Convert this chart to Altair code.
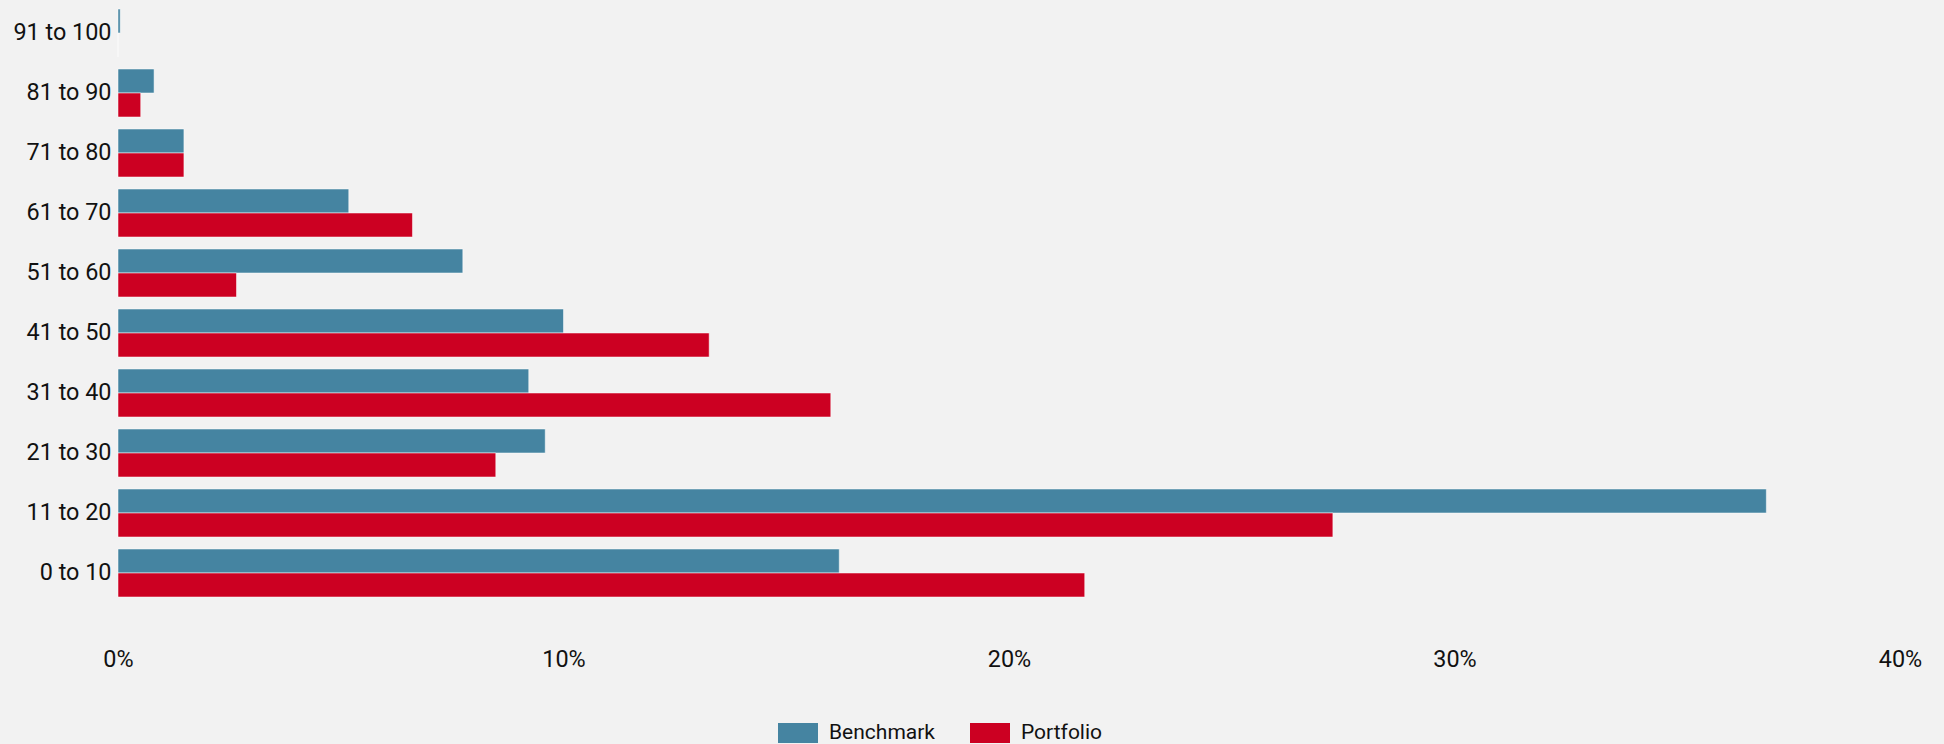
import altair as alt
import pandas as pd

ranges = ["91 to 100", "81 to 90", "71 to 80", "61 to 70", "51 to 60",
          "41 to 50", "31 to 40", "21 to 30", "11 to 20", "0 to 10"]
benchmark = [0.05, 0.81, 1.48, 5.18, 7.74, 10.0, 9.22, 9.59, 37.0, 16.19]
portfolio = [0.0, 0.51, 1.48, 6.61, 2.66, 13.27, 16.0, 8.48, 27.27, 21.70]
series = ["Benchmark", "Portfolio"]
colors = ["#4584a1", "#cc0022"]

rows = []
for r, b, p in zip(ranges, benchmark, portfolio):
    rows.append({"Range": r, "Series": "Benchmark", "Value": b / 100})
    rows.append({"Range": r, "Series": "Portfolio", "Value": p / 100})
df = pd.DataFrame(rows)

FONT = "Roboto"
AX = 23.4

chart = alt.Chart(df).mark_bar(
    stroke="white", strokeWidth=1, strokeOpacity=0.5
).encode(
    y=alt.Y("Range:N", sort=ranges, title=None,
            scale=alt.Scale(paddingInner=0.2, paddingOuter=0.1),
            axis=alt.Axis(domain=False, ticks=False, labelFontSize=AX,
                          labelFont=FONT, labelColor="#111", labelPadding=7)),
    yOffset=alt.YOffset("Series:N", sort=series,
                        scale=alt.Scale(paddingInner=0, paddingOuter=0)),
    x=alt.X("Value:Q", title=None,
            scale=alt.Scale(domain=[0, 0.4], nice=False),
            axis=alt.Axis(values=[0, 0.1, 0.2, 0.3, 0.4], format=".0%",
                          grid=False, domain=False, ticks=False,
                          labelFontSize=AX, labelFont=FONT, labelColor="#111",
                          labelPadding=45, labelFlush=False)),
    color=alt.Color("Series:N", sort=series,
                    scale=alt.Scale(domain=series, range=colors),
                    legend=alt.Legend(
                        title=None, orient="none", direction="horizontal",
                        legendX=660, legendY=710,
                        symbolType="M-1,-0.5H1V0.5H-1Z", symbolSize=1600,
                        symbolStrokeWidth=0, labelFontSize=21, labelFont=FONT,
                        labelColor="#111", labelOffset=11, columnPadding=35)),
).properties(
    width=1782, height=600,
    background="#f2f2f2",
    padding={"left": 118, "top": 3, "right": 44, "bottom": 141},
    autosize=alt.AutoSizeParams(type="none"),
).configure_view(stroke=None)

chart.save("out.html", embed_options={"renderer": "svg", "actions": False})
